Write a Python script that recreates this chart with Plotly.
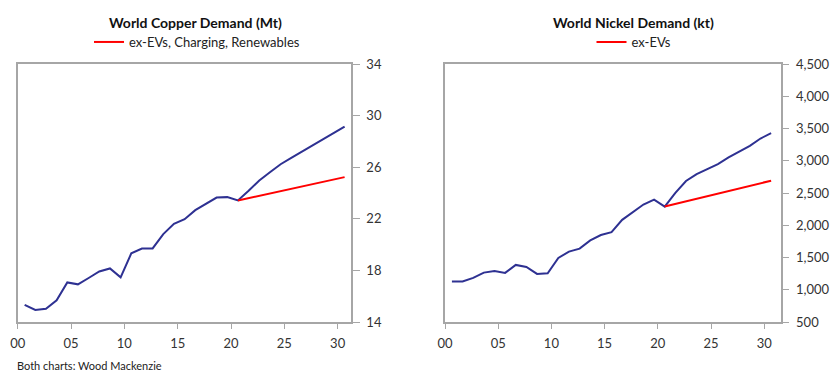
import plotly.graph_objects as go

years = list(range(2001, 2032))
copper_total = [15.32, 14.93, 15.03, 15.68, 17.07, 16.92, 17.41, 17.92, 18.15, 17.46,
                19.32, 19.70, 19.70, 20.81, 21.61, 21.97, 22.67, 23.16, 23.65, 23.68,
                23.42, 24.17, 24.97, 25.61, 26.23, 26.72, 27.21, 27.68, 28.17, 28.66, 29.15]
copper_ex_years = [2021, 2031]
copper_ex = [23.42, 25.23]

nickel_total = [1128, 1128, 1184, 1266, 1292, 1261, 1385, 1354, 1246, 1256,
                1493, 1591, 1637, 1765, 1848, 1894, 2084, 2203, 2321, 2398,
                2290, 2501, 2686, 2794, 2866, 2949, 3051, 3144, 3231, 3345, 3427]
nickel_ex_years = [2021, 2031]
nickel_ex = [2290, 2691]

tick_years = [2000.35, 2005.35, 2010.35, 2015.35, 2020.35, 2025.35, 2030.35]
tick_labels = ["00", "05", "10", "15", "20", "25", "30"]

BLUE = "#2E3192"
RED = "#FF0000"
AX = "#A6A6A6"
FONT = "Lato"

fig = go.Figure()
fig.add_trace(go.Scatter(x=years, y=copper_total, mode="lines", line=dict(color=BLUE, width=2),
                         showlegend=False, xaxis="x", yaxis="y"))
fig.add_trace(go.Scatter(x=copper_ex_years, y=copper_ex, mode="lines", line=dict(color=RED, width=2),
                         name="ex-EVs, Charging, Renewables", legend="legend", xaxis="x", yaxis="y"))
fig.add_trace(go.Scatter(x=years, y=nickel_total, mode="lines", line=dict(color=BLUE, width=2),
                         showlegend=False, xaxis="x2", yaxis="y2"))
fig.add_trace(go.Scatter(x=nickel_ex_years, y=nickel_ex, mode="lines", line=dict(color=RED, width=2),
                         name="ex-EVs", legend="legend2", xaxis="x2", yaxis="y2"))

ydom = [(383 - 322) / 383, (383 - 64) / 383]
common_x = dict(tickvals=tick_years, ticktext=tick_labels, showline=True, linecolor=AX, linewidth=1.5,
                mirror=True, ticks="outside", ticklen=5, tickcolor=AX, showgrid=False, zeroline=False,
                automargin=False, ticklabelstandoff=4,
                tickfont=dict(family=FONT, size=13, color="#333333"))
common_y = dict(side="right", showline=True, linecolor=AX, linewidth=1.5, mirror=True, ticks="outside",
                ticklen=7, tickcolor=AX, showgrid=False, zeroline=False, automargin=False,
                ticklabelstandoff=4,
                tickfont=dict(family=FONT, size=13, color="#333333"), domain=ydom)

fig.update_layout(
    width=840, height=383, margin=dict(l=0, r=0, t=0, b=0, pad=0, autoexpand=False),
    paper_bgcolor="white", plot_bgcolor="white",
    xaxis=dict(domain=[17.7 / 840, 351 / 840], range=[2000.35, 2031.6], anchor="y", **common_x),
    yaxis=dict(range=[14, 34], tick0=14, dtick=4, anchor="x", **common_y),
    xaxis2=dict(domain=[445 / 840, 780.7 / 840], range=[2000.35, 2031.9], anchor="y2", **common_x),
    yaxis2=dict(range=[500, 4500], tick0=500, dtick=500, tickformat=",", anchor="x2", **common_y),
    legend=dict(x=197 / 840, y=1 - 42 / 383, xanchor="center", yanchor="middle", orientation="h",
                font=dict(family=FONT, size=13, color="#222222"), bgcolor="rgba(0,0,0,0)"),
    legend2=dict(x=634 / 840, y=1 - 42 / 383, xanchor="center", yanchor="middle", orientation="h",
                 font=dict(family=FONT, size=13, color="#222222"), bgcolor="rgba(0,0,0,0)"),
    annotations=[
        dict(text="<b>World Copper Demand (Mt)</b>", x=195 / 840, y=1 - 23 / 383, xref="paper", yref="paper",
             showarrow=False, xanchor="center", yanchor="middle", font=dict(family=FONT, size=14, color="#111111")),
        dict(text="<b>World Nickel Demand (kt)</b>", x=633 / 840, y=1 - 23 / 383, xref="paper", yref="paper",
             showarrow=False, xanchor="center", yanchor="middle", font=dict(family=FONT, size=14, color="#111111")),
        dict(text="Both charts: Wood Mackenzie", x=15 / 840, y=1 - 365 / 383, xref="paper", yref="paper",
             showarrow=False, xanchor="left", yanchor="middle", font=dict(family=FONT, size=11, color="#222222")),
    ],
)

fig.write_html("out.html")
